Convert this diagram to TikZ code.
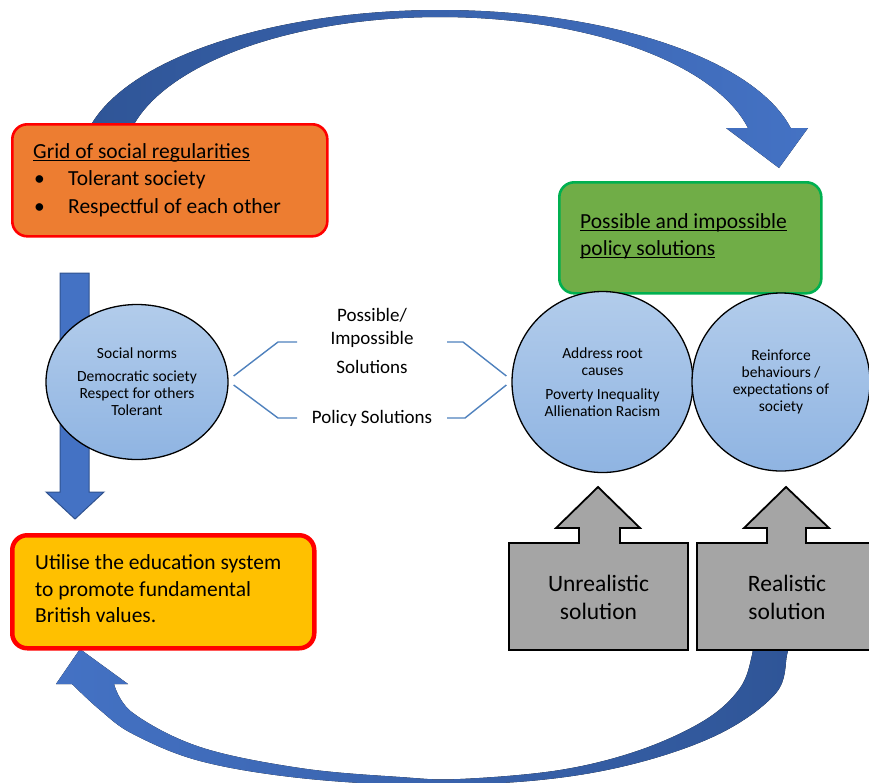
\documentclass[tikz,border=0pt]{standalone}
\usepackage{fontspec}
\setmainfont{Carlito}
\usetikzlibrary{shapes.geometric}

% underline at a fixed depth below the baseline
\newcommand\heldline[1]{\setbox0=\hbox{#1}\rlap{\rule[-3pt]{\wd0}{1.1pt}}\box0}

\definecolor{arcblue}{HTML}{4472C4}
\definecolor{arcdark}{HTML}{2F5597}
\definecolor{arcline}{HTML}{2F528F}
\definecolor{orangefill}{HTML}{ED7D31}
\definecolor{yellowfill}{HTML}{FFC000}
\definecolor{greenfill}{HTML}{70AD47}
\definecolor{greenline}{HTML}{00B050}
\definecolor{boxred}{HTML}{FF0000}
\definecolor{grayfill}{HTML}{A5A5A5}
\definecolor{bubbletop}{RGB}{178,204,235}
\definecolor{bubblebot}{RGB}{143,180,226}
\definecolor{linkblue}{HTML}{4F81BD}

\begin{document}
\begin{tikzpicture}[x=1pt,y=-1pt,
  bubble/.style={draw=black, line width=1.3pt, top color=bubbletop, bottom color=bubblebot,
                 inner sep=0pt, align=center, font=\fontsize{15.5}{17}\selectfont},
  infobox/.style={rounded corners=15pt, inner sep=0pt, align=left, anchor=north west},
  calloutshape/.style={draw=black, line width=1.8pt, fill=grayfill, line join=miter},
  calloutlabel/.style={align=center, font=\fontsize{23.5}{28}\selectfont},
  link/.style={draw=linkblue, line width=1.4pt},
  midlabel/.style={align=center, font=\fontsize{19}{23}\selectfont, inner sep=0pt},
  boxtext/.style={anchor=west, align=left, inner sep=0pt}]

\useasboundingbox (0,0) rectangle (869,782);

% upper curved arrow (behind the orange box)
\fill[left color=arcdark, right color=arcblue]
  plot[domain=167.7:12.3, samples=80] ({440+359*cos(\x)},{160-150*sin(\x)})
  -- (808,128) -- (779,168) -- (726,128)
  -- plot[domain=12.9:167.1, samples=80] ({440+316*cos(\x)},{160-143*sin(\x)})
  -- cycle;

% lower curved arrow (behind the realistic solution box)
\fill[left color=arcblue, right color=arcdark]
  plot[smooth, tension=0.6] coordinates {(789,640) (787,655) (776,693) (721,733) (637,763)
      (540,780) (420,785) (300,778) (200,761) (133,734) (100,710) (72,684)}
  -- (56,684) -- (80,649) -- (128,684)
  -- plot[smooth, tension=0.6] coordinates {(114,684) (133,713) (200,747) (300,768)
      (400,777) (460,779) (560,770) (640,750) (705,720) (740,688) (752,655) (752,640)}
  -- cycle;

% downward block arrow on the left
\draw[fill=arcblue, draw=arcline, line width=1pt]
  (60,273) -- (89,273) -- (89,492) -- (104,492) -- (75,519) -- (46,492) -- (60,492) -- cycle;

% orange box
\node[infobox, draw=boxred, line width=2.6pt, fill=orangefill,
      minimum width=315pt, minimum height=112pt] (grid) at (11,123) {};
\node[boxtext, font=\fontsize{21.5}{27.5}\selectfont] (gridtext) at (33,180)
  {\heldline{Grid of social regularities}\\
   \hspace*{1pt}\makebox[34pt][l]{\textbullet}Tolerant society\\
   \hspace*{1pt}\makebox[34pt][l]{\textbullet}Respectful of each other};

% green box
\node[infobox, draw=greenline, line width=2.6pt, fill=greenfill,
      minimum width=262pt, minimum height=111pt] (policy) at (558,181) {};
\node[boxtext, font=\fontsize{21.5}{27}\selectfont] (policytext) at (580,236)
  {\heldline{Possible and impossible}\\ \heldline{policy solutions}};

% yellow box
\node[infobox, draw=boxred, line width=4.5pt, fill=yellowfill,
      minimum width=302pt, minimum height=113pt] (edu) at (10,533) {};
\node[boxtext, font=\fontsize{21.5}{26.5}\selectfont] (edutext) at (35,589)
  {Utilise the education system\\ to promote fundamental\\ British values.};

% social norms ellipse
\node[bubble, ellipse, minimum width=182pt, minimum height=155pt] (norms) at (137,382)
  {Social norms\\[6pt]Democratic society\\Respect for others\\Tolerant};

% solution circles
\node[bubble, circle, minimum size=181pt] (roots) at (602.5,382)
  {Address root\\causes\\[7pt]Poverty Inequality\\Allienation Racism};
\node[bubble, circle, minimum size=178pt] (reinforce) at (781,382)
  {Reinforce\\behaviours /\\expectations of\\society};

% labels between ellipse and circles
\node[midlabel] (posslabel) at (372,341) {Possible/\\Impossible\\[6pt]Solutions};
\node[midlabel] (pollabel) at (372,418) {Policy Solutions};

\coordinate (lt) at (278,342);
\coordinate (ltend) at (297,342);
\coordinate (lb) at (278,418);
\coordinate (lbend) at (297,418);
\coordinate (rt) at (463,342);
\coordinate (rtend) at (447,342);
\coordinate (rb) at (465,418);
\coordinate (rbend) at (447,418);

\draw[link] ([shift={(5,-6)}]norms.east) -- (lt) -- (ltend);
\draw[link] ([shift={(5,3)}]norms.east) -- (lb) -- (lbend);
\draw[link] (rtend) -- (rt) -- ([shift={(-5,-6)}]roots.west);
\draw[link] (rbend) -- (rb) -- ([shift={(-5,3)}]roots.west);

% grey callout boxes with up arrows
\draw[calloutshape] (509,650) -- (509,543) -- (579,543) -- (579,528) -- (556,528) -- (598,487)
  -- (640,528) -- (620,528) -- (620,543) -- (688,543) -- (688,650) -- cycle;
\node[calloutlabel] (unreal) at (598.5,597) {Unrealistic\\solution};

\draw[calloutshape] (697,650) -- (697,543) -- (767,543) -- (767,528) -- (744,528) -- (786,487)
  -- (829,528) -- (806,528) -- (806,543) -- (885,543) -- (885,650) -- cycle;
\node[calloutlabel] (real) at (787,597) {Realistic\\solution};

\end{tikzpicture}
\end{document}
